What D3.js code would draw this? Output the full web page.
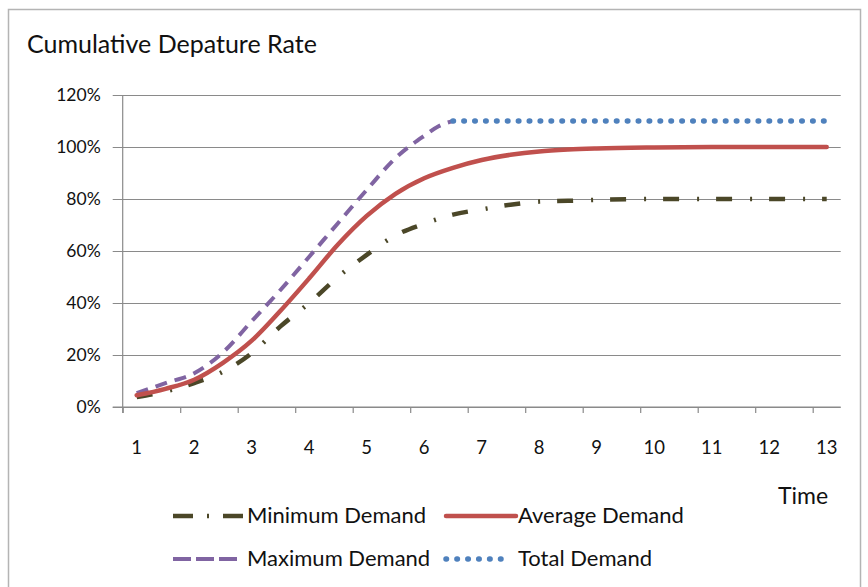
<!DOCTYPE html>
<html>
<head>
<meta charset="utf-8">
<script src="https://cdn.jsdelivr.net/npm/d3@7"></script>
<style>
  html, body { margin: 0; padding: 0; background: #fff; }
  svg { display: block; }
  text { font-family: Lato, "Open Sans", sans-serif; fill: #111; }
</style>
</head>
<body>
<svg id="chart" width="868" height="587"></svg>
<script>
// Cumulative departure rate (%) against time, four demand scenarios
const timeTicks = [1, 2, 3, 4, 5, 6, 7, 8, 9, 10, 11, 12, 13];
const yTicks = [0, 20, 40, 60, 80, 100, 120];

const minTime = [1, 1.5, 2, 2.5, 3, 3.5, 4, 4.5, 5, 5.5, 6, 6.5, 7, 7.5, 8, 8.5, 9, 10, 11, 12, 13];
const minValues = [3.8, 6, 9.2, 13.6, 20.7, 31, 40, 50, 58.5, 66, 70.5, 74, 76, 77.8, 79, 79.3, 79.7, 80, 80, 80, 80];

const avgTime = [1, 1.5, 2, 2.5, 3, 3.5, 4, 4.5, 5, 5.5, 6, 6.5, 7, 7.5, 8, 8.5, 9, 10, 11, 12, 13];
const avgValues = [4.5, 7, 10.5, 17, 25.5, 37, 49.5, 62.5, 73.5, 82, 88, 92, 95, 97, 98.3, 99, 99.4, 99.8, 100, 100, 100];

const maxTime = [1, 1.5, 2, 2.5, 3, 3.5, 4, 4.5, 5, 5.5, 6, 6.25, 6.5];
const maxValues = [5.3, 9.2, 13, 21, 33, 45, 57.8, 70.7, 83.5, 95.7, 104.3, 108, 110];

const totalTime = [6.5, 7, 8, 9, 10, 11, 12, 13];
const totalValues = [110, 110, 110, 110, 110, 110, 110, 110];

const seriesNames = ["Minimum Demand", "Average Demand", "Maximum Demand", "Total Demand"];

const svg = d3.select("#chart");
const gridColor = "#8a8a8a";

// frame around the chart
svg.append("rect")
  .attr("x", 8.5).attr("y", 9.5)
  .attr("width", 852).attr("height", 620)
  .attr("fill", "none").attr("stroke", "#b4b4b4").attr("stroke-width", 1.5);

const plot = { left: 122.7, right: 840.7, top: 95, bottom: 407 };
const tickShift = 0.2435; // tick marks sit just before each labelled time

const x = d3.scaleLinear()
  .domain([1 - tickShift, 13 + tickShift])
  .range([plot.left, plot.right]);
const y = d3.scaleLinear()
  .domain([0, 120])
  .range([plot.bottom, plot.top]);

// title
svg.append("text")
  .attr("x", 27).attr("y", 53)
  .attr("font-size", 25)
  .text("Cumulative Depature Rate");

// horizontal gridlines + y labels
const yAxis = d3.axisLeft(y)
  .tickValues(yTicks)
  .tickFormat(d => d + "%")
  .tickSize(-(plot.right - plot.left))
  .tickPadding(22);
const gy = svg.append("g")
  .attr("transform", `translate(${plot.left},0)`)
  .call(yAxis);
gy.select(".domain").remove();
gy.selectAll(".tick line")
  .attr("x1", -10)
  .attr("stroke", gridColor).attr("stroke-width", 1.2);
gy.selectAll(".tick text")
  .attr("font-size", 17.5)
  .attr("font-family", "Lato, 'Open Sans', sans-serif")
  .attr("fill", "#111");

// vertical axis line
svg.append("line")
  .attr("x1", plot.left).attr("x2", plot.left)
  .attr("y1", plot.top).attr("y2", plot.bottom + 6)
  .attr("stroke", gridColor).attr("stroke-width", 1.2);

// x axis: line, tick marks and labels
const xAxis = d3.axisBottom(x)
  .tickValues(timeTicks.map(t => t - tickShift))
  .tickSize(6)
  .tickFormat("");
const gx = svg.append("g")
  .attr("transform", `translate(0,${plot.bottom})`)
  .call(xAxis);
gx.select(".domain")
  .attr("d", `M${plot.left - 10},0H${plot.right}`)
  .attr("stroke", gridColor).attr("stroke-width", 1.2);
gx.selectAll(".tick line").attr("stroke", gridColor).attr("stroke-width", 1.2);

svg.append("g").selectAll("text")
  .data(timeTicks)
  .join("text")
  .attr("x", d => x(d))
  .attr("y", 454)
  .attr("text-anchor", "middle")
  .attr("font-size", 18.5)
  .text(d => d);

svg.append("text")
  .attr("x", 803).attr("y", 504)
  .attr("text-anchor", "middle")
  .attr("font-size", 23)
  .text("Time");

// series styles
const styles = [
  { color: "#4b4728", width: 4.5, dash: "16,18,2,17", cap: "butt" },
  { color: "#c0504d", width: 4.5, dash: null, cap: "round" },
  { color: "#8064a2", width: 4, dash: "12,8", cap: "butt" },
  { color: "#4f81bd", width: 5.5, dash: "0.5,10.4", cap: "round" }
];

const series = [
  { t: minTime, v: minValues },
  { t: avgTime, v: avgValues },
  { t: maxTime, v: maxValues },
  { t: totalTime, v: totalValues }
];

const line = d3.line()
  .x(d => x(d[0]))
  .y(d => y(d[1]))
  .curve(d3.curveMonotoneX);

const drawOrder = [0, 2, 1, 3];
drawOrder.forEach(i => {
  const s = series[i], st = styles[i];
  svg.append("path")
    .datum(s.t.map((t, k) => [t, s.v[k]]))
    .attr("d", line)
    .attr("fill", "none")
    .attr("stroke", st.color)
    .attr("stroke-width", st.width)
    .attr("stroke-dasharray", st.dash)
    .attr("stroke-linecap", st.cap)
    .attr("stroke-linejoin", "round");
});

// legend, two rows
const legendItems = [
  { sx: 173, sw: 72, tx: 247, ty: 516 },
  { sx: 446, sw: 70, tx: 518, ty: 516 },
  { sx: 173, sw: 68, tx: 247, ty: 559 },
  { sx: 446, sw: 62, tx: 518, ty: 559 }
];
legendItems.forEach((it, i) => {
  const st = styles[i];
  svg.append("line")
    .attr("x1", it.sx).attr("x2", it.sx + it.sw)
    .attr("y1", it.ty).attr("y2", it.ty)
    .attr("stroke", st.color)
    .attr("stroke-width", st.width)
    .attr("stroke-dasharray", i === 0 ? "20,14,2,14" : (i === 2 ? "18,5" : st.dash))
    .attr("stroke-linecap", st.cap);
  svg.append("text")
    .attr("x", it.tx).attr("y", it.ty + 7)
    .attr("font-size", 22)
    .text(seriesNames[i]);
});
</script>
</body>
</html>
